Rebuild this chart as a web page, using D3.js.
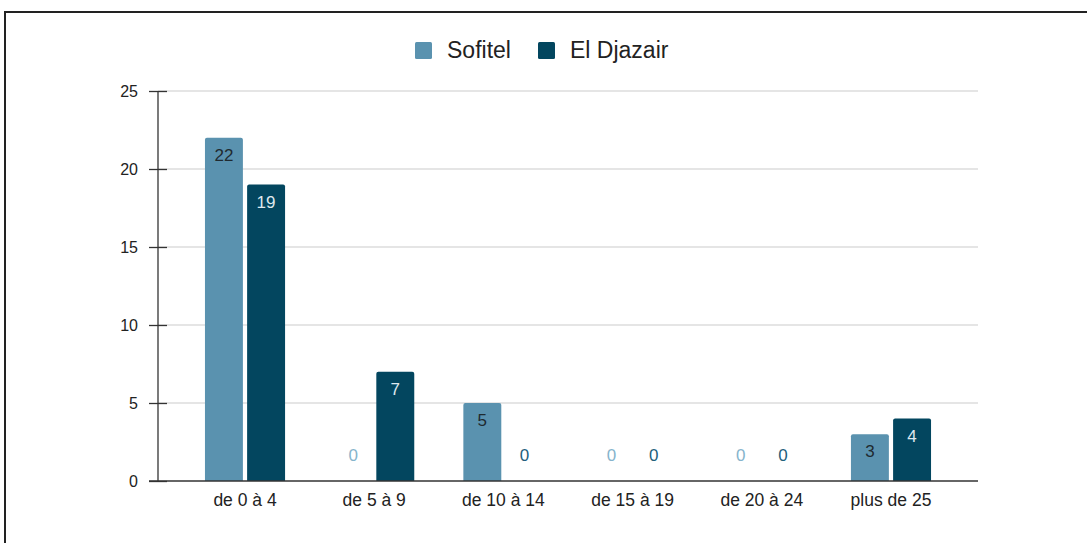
<!DOCTYPE html>
<html><head><meta charset="utf-8">
<script src="https://cdn.jsdelivr.net/npm/d3@7"></script>
<style>body{margin:0;background:#fff;}svg{display:block;font-family:"Liberation Sans",Arial,sans-serif;}</style>
</head><body>
<svg id="c" width="1087" height="543"></svg>
<script>
const categories = ["de 0 à 4","de 5 à 9","de 10 à 14","de 15 à 19","de 20 à 24","plus de 25"];
const seriesNames = ["Sofitel","El Djazair"];
const sofitel = [22,0,5,0,0,3];
const elDjazair = [19,7,0,0,0,4];
const yTicks = [0,5,10,15,20,25];
const colors = ["#5a92af","#03465f"];
const labelColors = ["#1f2a30","#dfe8ee"];
const zeroColors = ["#86b4cc","#22607c"];

const svg = d3.select("#c");
// frame
svg.append("path").attr("d","M5,543 L5,12 L1087,12").attr("fill","none").attr("stroke","#222").attr("stroke-width",2);

const y = d3.scaleLinear().domain([0,25]).range([481,91]);
const x0 = d3.scaleBand().domain(categories).range([158,978]).paddingInner(0.38).paddingOuter(0.3635);
const x1 = d3.scaleBand().domain(seriesNames).range([0,x0.bandwidth()]).paddingInner(0.1);

// grid
svg.append("g").selectAll("line").data(yTicks.filter(d=>d>0)).join("line")
  .attr("x1",158).attr("x2",978).attr("y1",d=>y(d)).attr("y2",d=>y(d))
  .attr("stroke","#dcdcdc").attr("stroke-width",1.5);

// y axis
const yAxis = d3.axisLeft(y).tickValues(yTicks).tickSize(0).tickPadding(0);
const ga = svg.append("g").attr("transform","translate(158,0)").call(yAxis);
ga.select(".domain").remove();
ga.selectAll("text").attr("x",-20).attr("font-size",16).attr("fill","#222").attr("font-family","Liberation Sans, Arial, sans-serif");
ga.selectAll(".tick").append("line").attr("x1",-9).attr("x2",9).attr("stroke","#333").attr("stroke-width",1.3);
svg.append("line").attr("x1",158).attr("x2",158).attr("y1",y(25)).attr("y2",y(0)).attr("stroke","#333").attr("stroke-width",1.3);

const data = seriesNames.map((s,i)=>({name:s, values:[sofitel,elDjazair][i]}));

const groups = svg.append("g").selectAll("g").data(categories).join("g")
  .attr("transform",d=>`translate(${x0(d)},0)`);

groups.each(function(cat,ci){
  const g = d3.select(this);
  data.forEach((s,si)=>{
    const v = s.values[ci];
    const bx = x1(s.name), bw = x1.bandwidth();
    if (v>0){
      const top = y(v), bot = y(0), r=2;
      g.append("path").attr("fill",colors[si])
        .attr("d",`M${bx},${bot} L${bx},${top+r} Q${bx},${top} ${bx+r},${top} L${bx+bw-r},${top} Q${bx+bw},${top} ${bx+bw},${top+r} L${bx+bw},${bot} Z`);
      g.append("text").attr("x",bx+bw/2).attr("y",top+23).attr("text-anchor","middle")
        .attr("font-size",17).attr("fill",labelColors[si]).text(v);
    } else {
      g.append("text").attr("x",bx+bw/2).attr("y",y(0)-20).attr("text-anchor","middle")
        .attr("font-size",17).attr("fill",zeroColors[si]).text(v);
    }
  });
});

// baseline
svg.append("line").attr("x1",149).attr("x2",978).attr("y1",y(0)).attr("y2",y(0)).attr("stroke","#333").attr("stroke-width",1.3);

// x labels
const xAxis = d3.axisBottom(x0).tickSize(0).tickPadding(0);
const gx = svg.append("g").attr("transform",`translate(0,${y(0)})`).call(xAxis);
gx.select(".domain").remove();
gx.selectAll("text").attr("y",25).attr("dy",0).attr("font-size",17.5).attr("fill","#222").attr("font-family","Liberation Sans, Arial, sans-serif");

// legend
const legend = svg.append("g");
const legX = [415,538];
seriesNames.forEach((s,i)=>{
  legend.append("rect").attr("x",legX[i]).attr("y",42).attr("width",17).attr("height",17).attr("rx",1.5).attr("fill",colors[i]);
  legend.append("text").attr("x",legX[i]+32).attr("y",58).attr("font-size",23).attr("fill","#222").text(s);
});
</script>
</body></html>
